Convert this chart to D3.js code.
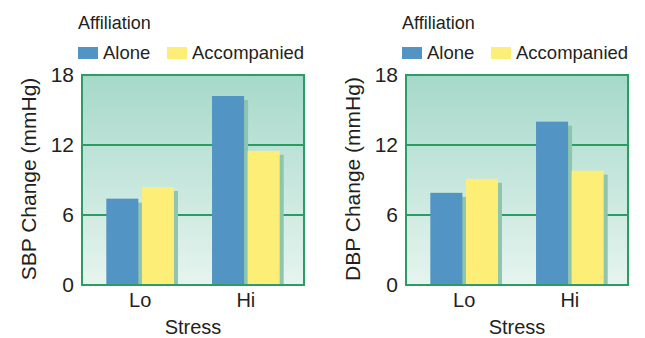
<!DOCTYPE html>
<html>
<head>
<meta charset="utf-8">
<script src="https://cdn.jsdelivr.net/npm/d3@7"></script>
<style>
  html, body { margin: 0; padding: 0; background: #fff; }
  svg { display: block; font-family: "Liberation Sans", Arial, Helvetica, sans-serif; }
</style>
</head>
<body>
<svg id="chart" width="645" height="338"></svg>
<script>
// Blood-pressure change by stress level and affiliation
const stressLevels = ["Lo", "Hi"];
const affiliations = ["Alone", "Accompanied"];
const yTicks = [0, 6, 12, 18];

const sbpAlone = [7.4, 16.2];
const sbpAccompanied = [8.4, 11.5];
const dbpAlone = [7.9, 14.0];
const dbpAccompanied = [9.1, 9.8];

const panels = [
  { title: "SBP Change (mmHg)", alone: sbpAlone, accompanied: sbpAccompanied, dx: 0 },
  { title: "DBP Change (mmHg)", alone: dbpAlone, accompanied: dbpAccompanied, dx: 324 }
];

const colors = { Alone: "#5294c3", Accompanied: "#fdee78" };
const shadowColor = "#8fc4ae";
const lineColor = "#2a9d62";
const textColor = "#231f20";

const svg = d3.select("#chart");

// Plot area shared by both panels
const plot = { left: 82, top: 75, width: 222, height: 210 };

const defs = svg.append("defs");
const grad = defs.append("linearGradient")
  .attr("id", "bg").attr("x1", 0).attr("y1", 0).attr("x2", 0).attr("y2", 1);
grad.append("stop").attr("offset", "0%").attr("stop-color", "#a6d9ca");
grad.append("stop").attr("offset", "100%").attr("stop-color", "#e6f4ef");

const y = d3.scaleLinear().domain([0, 18]).range([plot.height, 0]);
const x0 = d3.scaleBand().domain(stressLevels).range([0, plot.width])
  .paddingInner(0.36).paddingOuter(0.23);
const x1 = d3.scaleBand().domain(affiliations).range([0, x0.bandwidth()])
  .paddingInner(0.1);

panels.forEach(p => {
  const g = svg.append("g").attr("transform", `translate(${p.dx},0)`);

  // Legend
  g.append("text").attr("x", 78).attr("y", 29)
    .attr("font-size", 18).attr("fill", textColor).text("Affiliation");
  const legendX = { Alone: 78, Accompanied: 167 };
  affiliations.forEach(a => {
    g.append("rect").attr("x", legendX[a]).attr("y", 47)
      .attr("width", 20).attr("height", 12).attr("fill", colors[a]);
    g.append("text").attr("x", legendX[a] + 25).attr("y", 59)
      .attr("font-size", 18.5).attr("fill", textColor).text(a);
  });

  const pg = g.append("g").attr("transform", `translate(${plot.left},${plot.top})`);

  // Background
  pg.append("rect").attr("width", plot.width).attr("height", plot.height)
    .attr("fill", "url(#bg)");

  // Gridlines
  pg.selectAll("line.grid").data(yTicks.slice(1, -1)).join("line")
    .attr("class", "grid")
    .attr("x1", 0).attr("x2", plot.width)
    .attr("y1", d => y(d)).attr("y2", d => y(d))
    .attr("stroke", lineColor).attr("stroke-width", 2);

  const rows = stressLevels.map((s, i) => ({
    stress: s,
    values: [
      { key: "Alone", value: p.alone[i] },
      { key: "Accompanied", value: p.accompanied[i] }
    ]
  }));

  const groups = pg.selectAll("g.grp").data(rows).join("g")
    .attr("class", "grp")
    .attr("transform", d => `translate(${x0(d.stress)},0)`);

  // Drop shadows behind each bar
  groups.selectAll("rect.shadow").data(d => d.values).join("rect")
    .attr("class", "shadow")
    .attr("x", d => x1(d.key) + 4)
    .attr("y", d => y(d.value) + 4)
    .attr("width", x1.bandwidth())
    .attr("height", d => Math.max(0, plot.height - y(d.value) - 4))
    .attr("fill", shadowColor);

  groups.selectAll("rect.bar").data(d => d.values).join("rect")
    .attr("class", "bar")
    .attr("x", d => x1(d.key))
    .attr("y", d => y(d.value))
    .attr("width", x1.bandwidth())
    .attr("height", d => plot.height - y(d.value))
    .attr("fill", d => colors[d.key]);

  // Frame
  pg.append("rect").attr("width", plot.width).attr("height", plot.height)
    .attr("fill", "none").attr("stroke", lineColor).attr("stroke-width", 2);

  // Y axis labels
  const yAxis = d3.axisLeft(y).tickValues(yTicks).tickSize(0).tickPadding(8);
  const ya = pg.append("g").call(yAxis);
  ya.select(".domain").remove();
  ya.selectAll("text").attr("font-size", 21).attr("fill", textColor)
    .attr("font-family", "Liberation Sans, Arial, sans-serif");

  // X axis labels
  const xAxis = d3.axisBottom(x0).tickSize(0).tickPadding(8);
  const xa = pg.append("g").attr("transform", `translate(0,${plot.height})`).call(xAxis);
  xa.select(".domain").remove();
  xa.selectAll("text").attr("font-size", 20).attr("fill", textColor)
    .attr("font-family", "Liberation Sans, Arial, sans-serif");

  // Axis titles
  g.append("text")
    .attr("transform", `translate(36,${plot.top + plot.height / 2 - 1}) rotate(-90)`)
    .attr("text-anchor", "middle").attr("font-size", 21).attr("fill", textColor)
    .text(p.title);
  g.append("text")
    .attr("x", plot.left + plot.width / 2).attr("y", 334)
    .attr("text-anchor", "middle").attr("font-size", 20).attr("fill", textColor)
    .text("Stress");
});
</script>
</body>
</html>
